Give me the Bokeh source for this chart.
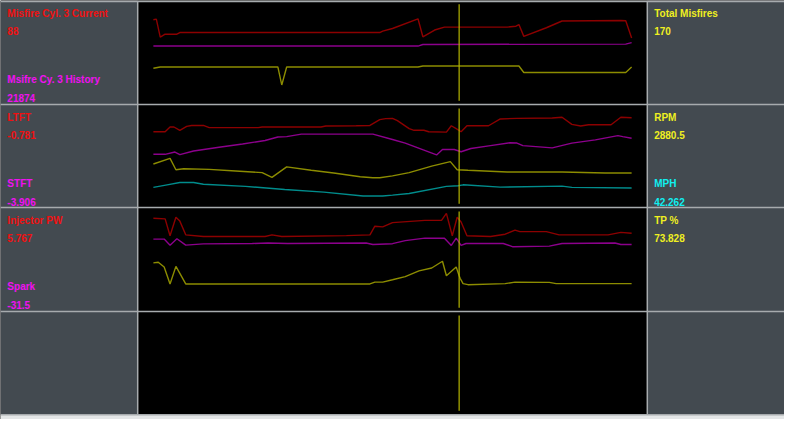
from bokeh.plotting import figure
from bokeh.models import Range1d
from bokeh.core.properties import value
from bokeh.embed import file_html
from bokeh.resources import INLINE

# logged channels: time in samples, values in % of their strip's height

# strip 1
t_mis_cur = [0, 3, 7, 12, 24, 27, 231, 234, 244, 270, 275, 287, 297, 361, 370, 373, 378, 401, 417, 477, 482, 488]
mis_cur = [81.5, 82.1, 64.8, 67.6, 67.6, 69.2, 69.2, 70.6, 73.1, 82.4, 65.1, 71.6, 74.4, 74.4, 75.3, 76.9, 65.5, 73.8, 80.3, 80.8, 80.6, 63.9]
t_mis_hist = [0, 270, 275, 482, 488]
mis_hist = [56.2, 56.2, 57.7, 58.1, 59.5]
t_mis_total = [0, 7, 127, 131, 136, 270, 275, 373, 378, 482, 488]
mis_total = [34.9, 36.1, 36.1, 18.8, 36.1, 36.1, 37.0, 37.0, 30.8, 30.8, 36.1]

# strip 2
t_ltft = [0, 12, 17, 21, 27, 34, 39, 51, 57, 107, 111, 171, 176, 207, 221, 231, 237, 244, 249, 261, 266, 276, 281,
          299, 304, 309, 314, 320, 342, 354, 371, 407, 417, 427, 436, 444, 467, 477, 488]
ltft = [73.6, 73.6, 78.2, 78.2, 75.0, 78.8, 79.7, 79.7, 77.6, 77.6, 78.2, 78.2, 79.2, 79.4, 79.7, 85.3, 86.3, 86.6, 84.4,
        76.6, 75.0, 75.0, 73.6, 73.2, 79.4, 76.6, 73.6, 79.4, 79.4, 86.0, 86.6, 86.9, 87.6, 80.7, 79.2, 80.4, 80.4, 87.6, 87.2]
t_stft = [0, 12, 22, 27, 41, 67, 91, 114, 127, 136, 151, 224, 244, 257, 289, 295, 307, 314, 324, 344, 364, 371, 377,
          407, 427, 451, 474, 479, 488]
stft = [51.7, 51.7, 53.9, 51.4, 54.9, 58.6, 61.7, 65.1, 68.5, 68.9, 71.3, 71.3, 66.1, 62.6, 51.1, 56.4, 56.4, 54.2, 57.3,
        60.1, 62.9, 62.6, 60.1, 57.9, 62.6, 65.7, 69.8, 68.9, 67.3]
t_rpm = [0, 17, 23, 31, 57, 84, 111, 121, 136, 161, 184, 211, 224, 231, 244, 261, 284, 303, 310, 321, 361, 417, 461, 488]
rpm = [42.3, 47.7, 36.7, 37.7, 37.1, 35.5, 33.9, 29.3, 39.5, 36.2, 33.6, 29.9, 29.0, 29.0, 30.8, 33.9, 40.2, 44.6, 36.7,
       36.2, 34.6, 34.6, 33.6, 33.6]
t_mph = [0, 14, 27, 41, 51, 94, 134, 174, 214, 234, 244, 261, 299, 311, 316, 354, 417, 427, 488]
mph = [19.6, 22.1, 24.3, 24.3, 22.7, 20.6, 17.5, 15.0, 11.2, 11.2, 12.1, 13.7, 20.6, 21.2, 22.1, 19.9, 20.8, 19.6, 19.0]

# strip 3
t_inj = [0, 12, 17, 23, 27, 33, 51, 114, 121, 131, 197, 221, 226, 234, 244, 277, 294, 299, 305, 310, 314, 320, 344,
         359, 369, 374, 401, 414, 464, 477, 488]
inj = [89.8, 89.2, 72.9, 90.7, 87.0, 73.8, 72.2, 72.2, 73.8, 72.2, 73.1, 73.8, 82.1, 81.5, 85.5, 87.7, 87.7, 94.4, 72.9,
       90.7, 86.1, 72.9, 72.2, 74.4, 78.4, 76.9, 76.9, 73.8, 73.8, 76.2, 75.3]
t_spark = [0, 11, 17, 24, 33, 51, 101, 117, 137, 217, 224, 244, 257, 277, 297, 304, 309, 314, 319, 357, 367, 404, 417,
           471, 477, 488]
spark = [69.7, 69.7, 63.9, 70.1, 63.9, 65.1, 65.5, 66.0, 65.5, 66.0, 64.5, 65.3, 68.2, 70.6, 70.6, 63.6, 70.6, 63.6,
         65.5, 65.5, 62.3, 63.0, 65.5, 66.0, 64.5, 64.5]
t_tp = [0, 5, 11, 17, 23, 33, 221, 226, 234, 244, 257, 271, 284, 295, 299, 309, 312, 313, 316, 321, 359, 369, 404, 411, 488]
tp = [46.9, 47.5, 42.9, 26.6, 43.5, 26.6, 26.6, 28.4, 28.4, 30.6, 33.6, 39.2, 41.9, 48.4, 34.5, 42.9, 34.5, 32.1, 26.9,
      25.9, 26.9, 28.4, 28.1, 26.9, 26.9]

t_cursor = 312

# readouts
left_names = ["Misfire Cyl. 3 Current", "Msifre Cy. 3 History", "LTFT", "STFT", "Injector PW", "Spark"]
left_values = ["88", "21874", "-0.781", "-3.906", "5.767", "-31.5"]
right_names = ["Total Misfires", "RPM", "MPH", "TP %"]
right_values = ["170", "2880.5", "42.262", "73.828"]

# layout (screen units of an 800 x 435 display)
W, H = 800, 435
PANEL_L, PANEL_R = 140, 660
T0_PX = 156
row_top = [0, 108, 215, 323]
row_bot = [108, 215, 323, 430]

RED, MAG, YEL, CYN = "#f01010", "#f010f0", "#f0f020", "#10f0f0"
DRED, DMAG, DYEL, DCYN = "#8c0000", "#8c008c", "#8c8c00", "#008c8c"
GRAY = "#434a50"
EDGE = "#a7abae"

p = figure(width=784, height=419, output_backend="svg", toolbar_location=None,
           x_range=Range1d(0, W), y_range=Range1d(H, 0),
           x_axis_location=None, y_axis_location=None, min_border=0)
p.grid.visible = False
p.outline_line_color = None
p.background_fill_color = "black"
p.border_fill_color = GRAY

p.extra_x_ranges = {"t": Range1d(-T0_PX, W - T0_PX)}
for i, (a, b) in enumerate(zip(row_top, row_bot)):
    k = 100.0 / (b - a)
    p.extra_y_ranges["s%d" % i] = Range1d(-(H - b) * k, 100 + a * k)

# panels
p.quad(left=[0, PANEL_R], right=[PANEL_L, W], top=[0, 0], bottom=[row_bot[-1]] * 2, fill_color=GRAY, line_color=None)
p.quad(left=[PANEL_L], right=[PANEL_R], top=[0], bottom=[row_bot[-1]], fill_color="black", line_color=None)
p.quad(left=[0], right=[W], top=[row_bot[-1]], bottom=[H], fill_color="#e4e6e7", line_color=None)

# traces
traces = [
    (0, t_mis_cur, mis_cur, DRED), (0, t_mis_hist, mis_hist, DMAG), (0, t_mis_total, mis_total, DYEL),
    (1, t_ltft, ltft, DRED), (1, t_stft, stft, DMAG), (1, t_rpm, rpm, DYEL), (1, t_mph, mph, DCYN),
    (2, t_inj, inj, DRED), (2, t_spark, spark, DMAG), (2, t_tp, tp, DYEL),
]
for row, t, v, c in traces:
    p.line(t, v, color=c, line_width=1.4, x_range_name="t", y_range_name="s%d" % row)

# cursor
p.segment(x0=[t_cursor] * 4, x1=[t_cursor] * 4,
          y0=[a + 4 for a in row_top], y1=[b - 4 for b in row_bot],
          color="#b4b400", line_width=1.2, x_range_name="t")

# strip edges
xs = [0] * 5 + [PANEL_L, PANEL_R]
xe = [W] * 5 + [PANEL_L, PANEL_R]
ys = [1] + row_bot + [1, 1]
ye = [1] + row_bot + [row_bot[-1], row_bot[-1]]
p.segment(x0=xs, x1=xe, y0=ys, y1=ye, color=EDGE, line_width=1.5)

# readout texts
lx, ly, lt, lc = [], [], [], []
for i in range(3):
    a = row_top[i]
    for j, (dy, col) in enumerate([(13, RED), (82, MAG)]):
        lx += [7, 7]
        ly += [a + dy, a + dy + 19]
        lt += [left_names[2 * i + j], left_values[2 * i + j]]
        lc += [col, col]

right_rows = [0, 1, 1, 2]
right_dy = [13, 13, 82, 13]
right_cols = [YEL, YEL, CYN, YEL]
for name, val, r, dy, col in zip(right_names, right_values, right_rows, right_dy, right_cols):
    lx += [667, 667]
    ly += [row_top[r] + dy, row_top[r] + dy + 19]
    lt += [name, val]
    lc += [col, col]

p.text(x=lx, y=ly, text=lt, text_color=lc, text_font=value("Liberation Sans"),
       text_font_style="bold", text_font_size="10px", text_baseline="middle", text_align="left")

open("out.html", "w").write(file_html(p, INLINE))
